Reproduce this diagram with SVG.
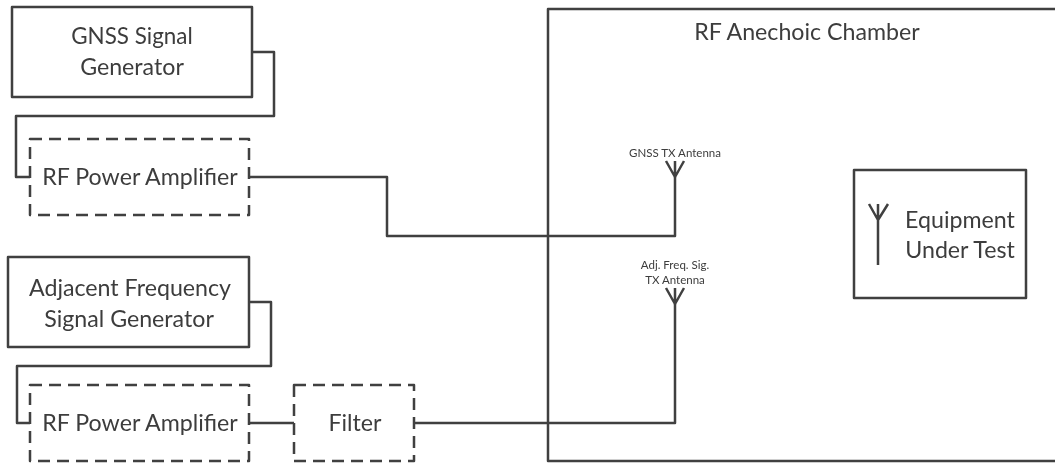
<svg xmlns="http://www.w3.org/2000/svg" width="1055" height="464" viewBox="0 0 1055 464">
<defs>
<style>
.b{fill:none;stroke:#404040;stroke-width:2.5;stroke-linejoin:round}
.d{stroke-dasharray:12 7}
.c{fill:none;stroke:#404040;stroke-width:2.5;stroke-linejoin:round}
text{font-family:"Lato","Open Sans","Liberation Sans",sans-serif;fill:#3c3c3c;text-anchor:middle}
.l{font-size:23.2px}
.s{font-size:11.5px}
</style>
<filter id="soft" x="-2%" y="-2%" width="104%" height="104%"><feGaussianBlur stdDeviation="0.5"/></filter>
</defs>
<rect width="1055" height="464" fill="#fff"/>
<g filter="url(#soft)">
<g id="connectors">
<path class="c" d="M252 52H274V116H16V177H30"/>
<path class="c" d="M249 177H387V236H675V177"/>
<path class="c" d="M249 302H271V366H17V423H30"/>
<path class="c" d="M249 423H294"/>
<path class="c" d="M414 423H675V304"/>
</g>
<g id="gnss-generator"><rect class="b" x="12" y="7" width="240" height="90"/>
<text class="l" x="132" y="44" style="font-size:22.4px">GNSS Signal</text><text class="l" x="132" y="75">Generator</text></g>
<g id="amp-1"><rect class="b d" x="30" y="139" width="219" height="76"/>
<text class="l" x="140" y="185">RF Power Amplifier</text></g>
<g id="adjacent-generator"><rect class="b" x="8" y="257" width="241" height="90"/>
<text class="l" x="130" y="296">Adjacent Frequency</text><text class="l" x="129" y="327">Signal Generator</text></g>
<g id="amp-2"><rect class="b d" x="30" y="385" width="219" height="76"/>
<text class="l" x="140" y="431">RF Power Amplifier</text></g>
<g id="filter"><rect class="b d" x="294" y="385" width="120" height="76"/>
<text class="l" x="355" y="431">Filter</text></g>
<g id="chamber"><path class="b" d="M1060 9H548V461H1060"/>
<text class="l" x="807" y="40">RF Anechoic Chamber</text></g>
<g id="gnss-antenna"><path class="c" d="M666 161L675 177L684 161M675 161V177"/>
<text class="s" x="675" y="157">GNSS TX Antenna</text></g>
<g id="adj-antenna"><path class="c" d="M666 288L675 304L684 288M675 288V304"/>
<text class="s" x="675" y="269">Adj. Freq. Sig.</text><text class="s" x="675" y="284">TX Antenna</text></g>
<g id="eut"><rect class="b" x="854" y="170" width="172" height="128"/>
<path class="c" d="M869 204L878 220L888 204M878 204V265"/>
<text class="l" x="960" y="228">Equipment</text><text class="l" x="960" y="258">Under Test</text></g>
</g>
</svg>
